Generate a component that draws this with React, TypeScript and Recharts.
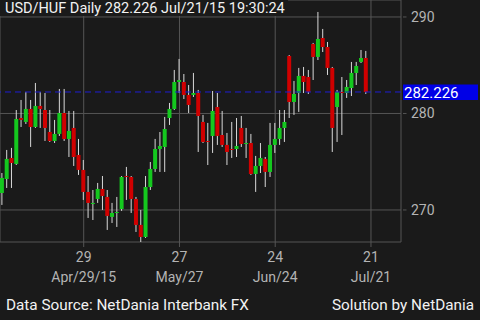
import { Bar, CartesianGrid, ComposedChart, ReferenceLine, XAxis, YAxis } from "recharts";

// USD/HUF daily candles, Apr 6 2015 .. Jul 21 2015
const open = [
  271.76, 273.21, 275.39, 274.77, 279.53, 279.12, 280.47, 278.6, 280.78, 280.36,
  278.08, 277.15, 277.88, 280.05, 277.36, 278.5, 275.7, 274.15, 271.87, 270.62,
  271.14, 272.18, 271.35, 269.28, 269.69, 270.1, 273.52, 273.42, 271.14, 268.45,
  267.2, 272.38, 274.25, 276.32, 276.53, 279.53, 280.47, 283.26, 283.26, 281.92,
  281.92, 282.12, 279.12, 277.15, 277.67, 280.67, 277.77, 276.74, 276.32, 276.32,
  278.5, 276.84, 276.94, 273.73, 274.56, 275.29, 273.94, 276.74, 277.36, 278.5,
  285.96, 281.19, 282.12, 283.89, 283.78, 287.2, 285.86, 287.82, 286.89, 284.72,
  280.67, 282.23, 282.12, 282.64, 284.2, 285.34, 285.75,
];
const high = [
  273.83, 276.22, 276.43, 280.36, 281.4, 282.23, 281.4, 283.16, 282.23, 282.12,
  280.36, 279.33, 282.54, 282.54, 280.26, 280.26, 277.36, 275.18, 273.52, 272.07,
  272.8, 273.52, 272.07, 270.73, 271.35, 273.52, 274.46, 273.52, 271.35, 270.0,
  273.52, 274.97, 277.36, 278.08, 279.64, 281.09, 284.51, 285.65, 284.09, 282.95,
  284.2, 282.44, 279.85, 279.02, 282.33, 282.12, 280.26, 277.98, 279.12, 279.53,
  279.74, 278.5, 277.88, 275.6, 276.94, 275.49, 279.02, 279.02, 280.36, 280.36,
  286.06, 283.37, 284.72, 284.82, 284.51, 287.31, 290.52, 288.76, 287.41, 284.82,
  282.44, 283.78, 283.47, 285.34, 285.34, 286.58, 286.48,
];
const low = [
  270.52, 272.28, 272.28, 274.66, 278.6, 278.91, 276.53, 278.5, 278.5, 277.15,
  277.05, 276.94, 277.67, 277.15, 275.49, 274.56, 273.63, 271.04, 269.17, 268.96,
  270.73, 270.0, 267.93, 268.65, 268.24, 269.9, 271.04, 269.69, 267.72, 266.68,
  267.1, 272.07, 273.94, 273.94, 273.94, 278.81, 280.36, 282.12, 281.5, 280.05,
  281.71, 276.01, 276.94, 274.66, 275.91, 276.74, 276.53, 274.66, 275.39, 275.49,
  276.53, 275.39, 273.63, 271.87, 273.83, 272.38, 273.42, 275.91, 276.74, 277.05,
  279.53, 279.85, 280.16, 282.12, 282.02, 283.47, 285.54, 286.37, 283.99, 276.01,
  277.05, 277.77, 281.61, 281.81, 282.95, 285.23, 282.02,
];
const close = [
  273.32, 275.29, 274.87, 279.43, 279.33, 280.47, 278.6, 280.78, 280.47, 278.5,
  277.15, 277.88, 280.05, 277.36, 278.19, 275.49, 274.15, 271.87, 270.73, 270.73,
  272.18, 271.45, 269.38, 269.69, 269.79, 273.42, 273.42, 271.14, 268.45, 267.2,
  272.38, 274.25, 276.32, 276.63, 278.39, 280.47, 283.26, 283.47, 281.92, 280.88,
  282.12, 279.74, 277.05, 277.05, 280.26, 277.67, 276.74, 276.01, 276.22, 276.63,
  276.84, 276.94, 273.73, 274.56, 275.39, 273.94, 276.74, 277.36, 278.5, 279.12,
  281.19, 282.02, 283.89, 283.26, 282.23, 285.86, 287.72, 286.89, 284.72, 278.5,
  282.23, 282.12, 282.75, 284.2, 284.92, 285.75, 282.226,
];

// x ticks sit on trading-day index
const tickIndex = [17, 37, 57, 77];
const tickDay = ["29", "27", "24", "21"];
const tickDate = ["Apr/29/15", "May/27", "Jun/24", "Jul/21"];
const priceTicks = [270, 280, 290];
const lastPrice = 282.226;

const BG = "#1a1a1a";
const GRID = "#555555";
const LABEL = "#b4b4b4";
const UP = "#14c81e";
const DOWN = "#d00000";
const FONT = "Roboto, sans-serif";

const data = open.map((o, i) => ({
  i,
  open: o,
  high: high[i],
  low: low[i],
  close: close[i],
  range: [low[i], high[i]],
}));

const Candle = (props: any) => {
  const { x, y, width, height, payload } = props;
  if (x == null || y == null) return null;
  const top = Math.min(y, y + height);
  const h = Math.abs(height);
  const span = payload.high - payload.low || 1;
  const toY = (v: number) => top + ((payload.high - v) / span) * h;
  const cx = x + width / 2;
  const up = payload.close >= payload.open;
  const bTop = toY(Math.max(payload.open, payload.close));
  const bBot = toY(Math.min(payload.open, payload.close));
  return (
    <g>
      <line x1={cx} x2={cx} y1={top} y2={top + h} stroke="#d8d8d8" strokeWidth={1} />
      <rect x={x} y={bTop} width={width} height={Math.max(bBot - bTop, 1)} fill={up ? UP : DOWN} />
    </g>
  );
};

const DateTick = (props: any) => {
  const { x, y, payload } = props;
  const k = tickIndex.indexOf(payload.value);
  return (
    <g>
      <line x1={x} x2={x} y1={y} y2={y + 5} stroke={GRID} />
      <text x={x} y={y + 20} textAnchor="middle" fill={LABEL} fontSize={14} fontFamily={FONT}>
        {tickDay[k]}
      </text>
      <text x={x} y={y + 40} textAnchor="middle" fill={LABEL} fontSize={14} fontFamily={FONT}>
        {tickDate[k]}
      </text>
    </g>
  );
};

const PriceTick = (props: any) => {
  const { x, y, payload } = props;
  return (
    <g>
      <line x1={x - 8} x2={x - 4.5} y1={y} y2={y} stroke={GRID} />
      <text x={x} y={y + 5} textAnchor="start" fill={LABEL} fontSize={14} fontFamily={FONT}>
        {payload.value}
      </text>
    </g>
  );
};

const PriceTag = (props: any) => {
  const vb = props.viewBox;
  if (!vb) return null;
  const rx = vb.x + vb.width + 2;
  return (
    <g>
      <rect x={rx} y={vb.y - 7.5} width={75} height={15.5} fill="#0000e6" />
      <text x={rx + 1} y={vb.y + 6} fill="#ffffff" fontSize={15} fontFamily={FONT}>
        {lastPrice.toFixed(3)}
      </text>
    </g>
  );
};

export default function App() {
  return (
    <div
      style={{
        position: "fixed",
        left: 0,
        top: 0,
        width: 480,
        height: 320,
        background: BG,
        fontFamily: FONT,
        overflow: "hidden",
      }}
    >
      <ComposedChart width={480} height={320} data={data} margin={{ top: 0, right: 0, bottom: 0, left: 0 }}>
        <CartesianGrid stroke={GRID} />
        <XAxis
          type="number"
          dataKey="i"
          domain={[-0.48, 83.27]}
          ticks={tickIndex}
          allowDataOverflow
          interval={0}
          height={78}
          axisLine={false}
          tickLine={false}
          tickSize={0}
          tickMargin={0}
          tick={<DateTick />}
        />
        <YAxis
          orientation="right"
          type="number"
          domain={[266.68, 291.76]}
          ticks={priceTicks}
          allowDataOverflow
          width={79}
          axisLine={false}
          tickLine={false}
          tickSize={0}
          tickMargin={10}
          tick={<PriceTick />}
        />
        <ReferenceLine y={lastPrice} stroke="#1e1ed2" strokeDasharray="6 4" label={<PriceTag />} />
        <Bar dataKey="range" shape={<Candle />} barSize={4} isAnimationActive={false} />
      </ComposedChart>
      <div
        style={{
          position: "absolute",
          left: 0,
          top: 0,
          height: 16,
          lineHeight: "18px",
          padding: "0 3px 0 5px",
          background: BG,
          color: "#f2f2f2",
          fontSize: 14.5,
          whiteSpace: "nowrap",
        }}
      >
        USD/HUF Daily 282.226 Jul/21/15 19:30:24
      </div>
      <div
        style={{
          position: "absolute",
          left: 6,
          top: 295,
          lineHeight: "20px",
          color: "#f2f2f2",
          fontSize: 15.3,
          whiteSpace: "nowrap",
        }}
      >
        Data Source: NetDania Interbank FX
      </div>
      <div
        style={{
          position: "absolute",
          right: 6,
          top: 295,
          lineHeight: "20px",
          color: "#f2f2f2",
          fontSize: 15.3,
          whiteSpace: "nowrap",
        }}
      >
        Solution by NetDania
      </div>
    </div>
  );
}
